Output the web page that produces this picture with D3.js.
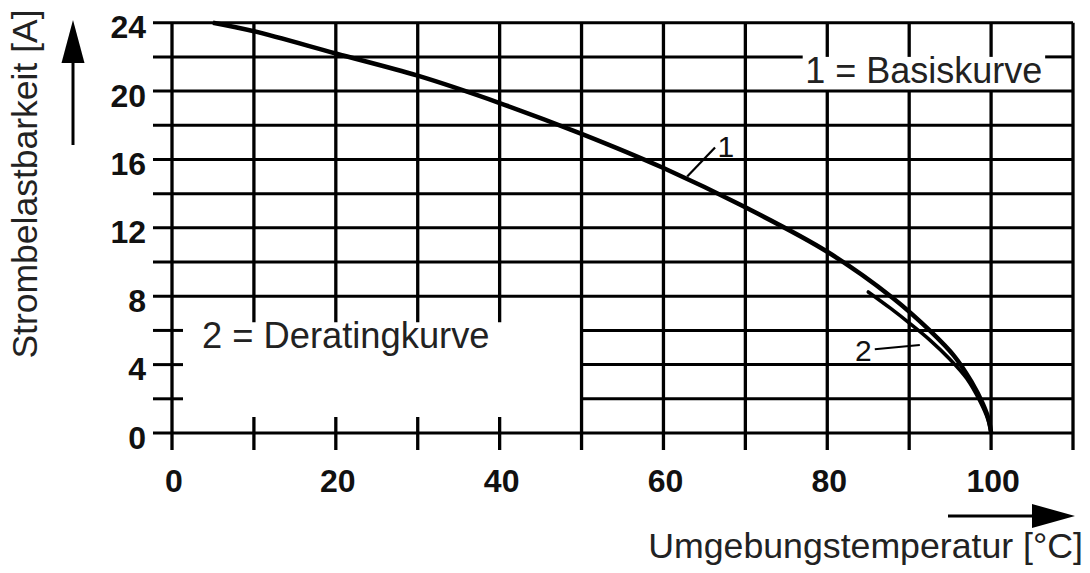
<!DOCTYPE html>
<html>
<head>
<meta charset="utf-8">
<script src="https://cdn.jsdelivr.net/npm/d3@7"></script>
<style>
  html, body { margin: 0; padding: 0; background: #fff; }
  svg { display: block; }
  text { font-family: "Liberation Sans", Arial, Helvetica, sans-serif; }
</style>
</head>
<body>
<svg id="chart" width="1090" height="573"></svg>
<script>
// ---- data ----
const xTickValues = [0, 10, 20, 30, 40, 50, 60, 70, 80, 90, 100, 110];
const xTickLabels = ["0", "", "20", "", "40", "", "60", "", "80", "", "100", ""];
const yTickValues = [0, 2, 4, 6, 8, 10, 12, 14, 16, 18, 20, 22, 24];
const yTickLabels = ["0", "", "4", "", "8", "", "12", "", "16", "", "20", "", "24"];

// curve 1 = Basiskurve (temperature °C, current A)
const basisTemp    = [5, 10, 20, 30, 40, 50, 60, 70, 80, 88, 92.5, 95.5, 97.6, 99.0, 99.7, 100];
const basisCurrent = [24, 23.5, 22.2, 20.9, 19.3, 17.5, 15.5, 13.2, 10.6, 7.9, 6.0, 4.5, 3.0, 1.7, 0.8, 0];

// curve 2 = Deratingkurve
const deratingTemp    = [85, 87.7, 90.1, 92.5, 95, 97, 98.7, 99.6, 100];
const deratingCurrent = [8.25, 7.3, 6.4, 5.45, 4.3, 3.2, 1.8, 0.8, 0];

const legendBasis = "1 = Basiskurve";
const legendDerating = "2 = Deratingkurve";
const yTitle = "Strombelastbarkeit [A]";
const xTitle = "Umgebungstemperatur [°C]";

// ---- drawing ----
const svg = d3.select("#chart");
const x = d3.scaleLinear().domain([0, 110]).range([172, 1073]);
const y = d3.scaleLinear().domain([0, 24]).range([433, 22.7]);

const ink = "#000";
const gridW = 3;
const stubLeft = x(0) - 19;
const stubRightSmall = x(0) + 11;
const tickBelow = y(0) + 17;

// empty region bottom-left: x 0..50, y 0..8
// label box top-right: x 77..106.6, y 20..22
const boxX0 = 77, boxX1 = 106.6;

const g = svg.append("g").attr("stroke", ink).attr("stroke-width", gridW).attr("fill", "none");

// horizontal lines
yTickValues.forEach(v => {
  let segs;
  if (v > 0 && v < 8) {
    segs = [[stubLeft, stubRightSmall], [x(50), x(110)]];
  } else if (v === 22) {
    segs = [[stubLeft, x(boxX0)], [x(boxX1), x(110)]];
  } else {
    segs = [[stubLeft, x(110)]];
  }
  segs.forEach(s => {
    g.append("line").attr("x1", s[0]).attr("x2", s[1]).attr("y1", y(v)).attr("y2", y(v));
  });
});

// vertical lines
xTickValues.forEach(v => {
  let segs;
  if (v > 0 && v < 50) {
    segs = [[y(24), y(8) + 26], [y(0) - 16, tickBelow]];
  } else if (v > boxX0 && v < boxX1) {
    segs = [[y(24), y(22)], [y(20), tickBelow]];
  } else {
    segs = [[y(24), tickBelow]];
  }
  segs.forEach(s => {
    g.append("line").attr("x1", x(v)).attr("x2", x(v)).attr("y1", s[0]).attr("y2", s[1])
      .attr("stroke-width", 3.3);
  });
});

// tick labels
svg.append("g").selectAll("text").data(xTickValues.map((v, i) => [v, xTickLabels[i]]).filter(d => d[1] !== ""))
  .join("text")
  .attr("x", d => x(d[0]) + 2).attr("y", 492)
  .attr("text-anchor", "middle").attr("font-size", 32).attr("font-weight", "bold").attr("fill", "#111")
  .text(d => d[1]);

svg.append("g").selectAll("text").data(yTickValues.map((v, i) => [v, yTickLabels[i]]).filter(d => d[1] !== ""))
  .join("text")
  .attr("x", 146).attr("y", d => y(d[0]) + 15.5)
  .attr("text-anchor", "end").attr("font-size", 32).attr("font-weight", "bold").attr("fill", "#111")
  .text(d => d[1]);

// curves
const line = d3.line().x(d => x(d[0])).y(d => y(d[1])).curve(d3.curveCatmullRom.alpha(0.5));
svg.append("path").attr("d", line(deratingTemp.map((t, i) => [t, deratingCurrent[i]])))
  .attr("fill", "none").attr("stroke", ink).attr("stroke-width", 3.5).attr("stroke-linecap", "round");
svg.append("path").attr("d", line(basisTemp.map((t, i) => [t, basisCurrent[i]])))
  .attr("fill", "none").attr("stroke", ink).attr("stroke-width", 4.5).attr("stroke-linecap", "butt");

// curve labels with leaders
svg.append("line").attr("x1", x(62.9)).attr("y1", y(15.0)).attr("x2", x(66.3)).attr("y2", y(16.7))
  .attr("stroke", ink).attr("stroke-width", 2.2);
svg.append("text").attr("x", x(66.6)).attr("y", y(16.7) + 10).attr("font-size", 30).attr("fill", "#111").text("1");
svg.append("line").attr("x1", x(85.8)).attr("y1", y(4.9)).attr("x2", x(91.3)).attr("y2", y(5.15))
  .attr("stroke", ink).attr("stroke-width", 2);
svg.append("text").attr("x", x(83.4)).attr("y", y(4.9) + 12).attr("font-size", 30).attr("fill", "#111").text("2");

// legend texts
svg.append("text").attr("x", x(77.3)).attr("y", 83).attr("font-size", 36).attr("fill", "#222").text(legendBasis);
svg.append("text").attr("x", 202).attr("y", 348).attr("font-size", 36.3).attr("fill", "#222").text(legendDerating);

// axis titles
svg.append("text").attr("transform", "translate(37,184) rotate(-90)").attr("text-anchor", "middle")
  .attr("font-size", 35.5).attr("fill", "#222").text(yTitle);
svg.append("text").attr("x", 1083).attr("y", 558).attr("text-anchor", "end")
  .attr("font-size", 35.7).attr("fill", "#222").text(xTitle);

// arrows
svg.append("line").attr("x1", 73).attr("y1", 145).attr("x2", 73).attr("y2", 55).attr("stroke", ink).attr("stroke-width", 3);
svg.append("path").attr("d", "M73,20 L61.5,63 L84.5,63 Z").attr("fill", ink);
svg.append("line").attr("x1", 948).attr("y1", 516).attr("x2", 1040).attr("y2", 516).attr("stroke", ink).attr("stroke-width", 3);
svg.append("path").attr("d", "M1075,516 L1032,504 L1032,528 Z").attr("fill", ink);
</script>
</body>
</html>
